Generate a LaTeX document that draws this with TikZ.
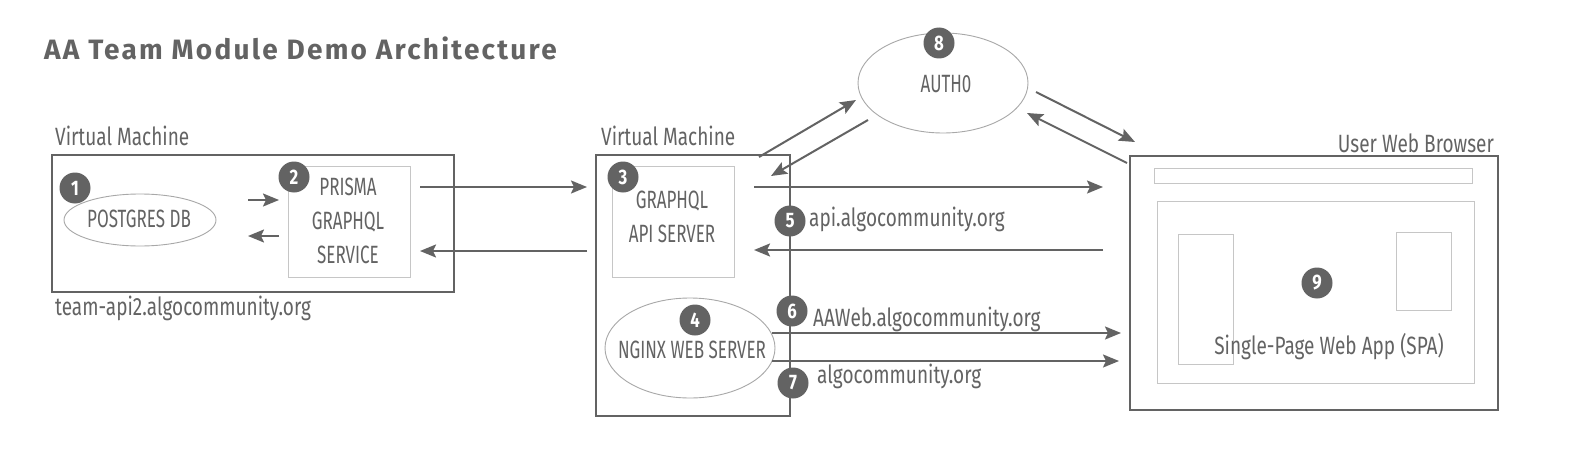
\documentclass[tikz,border=0pt]{standalone}
\usepackage{fontspec}
\setmainfont{Fira Sans}[FakeStretch=0.76]
\newfontfamily\capsfont{Fira Sans}[FakeStretch=0.68]
\newfontfamily\titlefont{Fira Sans}[LetterSpace=8]
\newfontfamily\badgefont{Fira Sans}[FakeStretch=0.8]
\usetikzlibrary{shapes.geometric,arrows.meta}
\definecolor{ink}{HTML}{636363}
\definecolor{lite}{HTML}{C6C6C6}
\definecolor{elli}{HTML}{A8A8A8}
\tikzset{
  vmbox/.style={draw=ink, line width=2pt, rectangle, inner sep=0pt, anchor=north west},
  litebox/.style={draw=lite, line width=1.4pt, rectangle, inner sep=0pt, anchor=north west},
  ellnode/.style={draw=elli, line width=0.9pt, ellipse, inner sep=0pt},
  badge/.style={circle, fill=ink, text=white, minimum size=31pt, inner sep=0pt,
    font=\badgefont\bfseries\fontsize{21}{21}\selectfont},
  capslbl/.style={text=ink, inner sep=0pt, font=\capsfont\fontsize{25}{34}\selectfont},
  lbl/.style={text=ink, inner sep=0pt, font=\fontsize{25}{30}\selectfont},
  arr/.style={draw=ink, line width=2pt, -{Stealth[length=16pt,width=13pt,inset=3pt]}},
}
\begin{document}
\begin{tikzpicture}[x=1pt,y=-1pt]
\useasboundingbox[fill=white] (0,0) rectangle (1584,452);

% title
\node[anchor=west, inner sep=0pt, text=ink, font=\titlefont\bfseries\fontsize{28}{31}\selectfont] (title) at (44,48) {AA Team Module Demo Architecture};

% left virtual machine
\node[vmbox, minimum width=402pt, minimum height=137.5pt] (vm1) at (50.5,153.5) {};
\node[lbl, anchor=west] (vm1lbl) at (55,136) {Virtual Machine};
\node[lbl, anchor=west] (vm1host) at (55,308) {team-api2.algocommunity.org};
\node[ellnode, minimum width=152pt, minimum height=52pt] (pg) at (140,220) {};
\node[capslbl] (pgtxt) at (139,219) {POSTGRES DB};
\node[litebox, minimum width=122pt, minimum height=111pt] (prisma) at (288,166) {};
\node[capslbl, align=center] (prismatxt) at (348,221) {PRISMA\\GRAPHQL\\SERVICE};
\node[badge] (b1) at (75,188) {1};
\node[badge] (b2) at (294,177) {2};

% middle virtual machine
\node[vmbox, minimum width=194pt, minimum height=261.5pt] (vm2) at (595,153.5) {};
\node[lbl, anchor=west] (vm2lbl) at (601,136) {Virtual Machine};
\node[litebox, minimum width=122pt, minimum height=111pt] (gql) at (612,166) {};
\node[capslbl, align=center] (gqltxt) at (672,217) {GRAPHQL\\API SERVER};
\node[ellnode, minimum width=170pt, minimum height=100pt] (nginx) at (690,348) {};
\node[capslbl] (nginxtxt) at (692,350) {NGINX WEB SERVER};
\node[badge] (b3) at (623,177) {3};
\node[badge] (b4) at (695,320) {4};

% auth0
\node[ellnode, minimum width=170pt, minimum height=100pt] (auth) at (943,83) {};
\node[capslbl] (authtxt) at (946,84) {AUTH0};
\node[badge] (b8) at (939,43) {8};

% browser
\node[vmbox, minimum width=368pt, minimum height=254pt] (browser) at (1129,155) {};
\node[lbl, anchor=east] (browserlbl) at (1494,143) {User Web Browser};
\node[litebox, minimum width=318pt, minimum height=15pt] (addr) at (1154,168) {};
\node[litebox, minimum width=317pt, minimum height=182pt] (page) at (1157,201) {};
\node[litebox, minimum width=55pt, minimum height=130pt] (side1) at (1178,234) {};
\node[litebox, minimum width=55pt, minimum height=78pt] (side2) at (1396,232) {};
\node[badge] (b9) at (1317,283) {9};
\node[lbl] (spa) at (1329,347) {Single-Page Web App (SPA)};

% connector labels
\node[badge] (b5) at (790,221) {5};
\node[lbl, anchor=west] (l5) at (809,219) {api.algocommunity.org};
\node[badge] (b6) at (792,311) {6};
\node[lbl, anchor=west] (l6) at (813,319) {AAWeb.algocommunity.org};
\node[badge] (b7) at (793,383) {7};
\node[lbl, anchor=west] (l7) at (817,376) {algocommunity.org};

% connector end points
\coordinate (a1s) at (248,200); \coordinate (a1e) at (279,200);
\coordinate (a2s) at (279,236); \coordinate (a2e) at (248,236);
\coordinate (a3s) at (420,187); \coordinate (a3e) at (587,187);
\coordinate (a4s) at (587,251); \coordinate (a4e) at (420,251);
\coordinate (a5s) at (759,157); \coordinate (a5e) at (856,100);
\coordinate (a6s) at (868,120); \coordinate (a6e) at (771,176);
\coordinate (a7s) at (1036,92); \coordinate (a7e) at (1135,142);
\coordinate (a8s) at (1127,163); \coordinate (a8e) at (1027,113);
\coordinate (a9s) at (754,187); \coordinate (a9e) at (1103,187);
\coordinate (a10s) at (1103,250); \coordinate (a10e) at (754,250);
\coordinate (a11s) at (772,333); \coordinate (a11e) at (1121,333);
\coordinate (a12s) at (772,361); \coordinate (a12e) at (1119,361);

\draw[arr] (a1s) -- (a1e);
\draw[arr] (a2s) -- (a2e);
\draw[arr] (a3s) -- (a3e);
\draw[arr] (a4s) -- (a4e);
\draw[arr] (a5s) -- (a5e);
\draw[arr] (a6s) -- (a6e);
\draw[arr] (a7s) -- (a7e);
\draw[arr] (a8s) -- (a8e);
\draw[arr] (a9s) -- (a9e);
\draw[arr] (a10s) -- (a10e);
\draw[arr] (a11s) -- (a11e);
\draw[arr] (a12s) -- (a12e);
\end{tikzpicture}
\end{document}
